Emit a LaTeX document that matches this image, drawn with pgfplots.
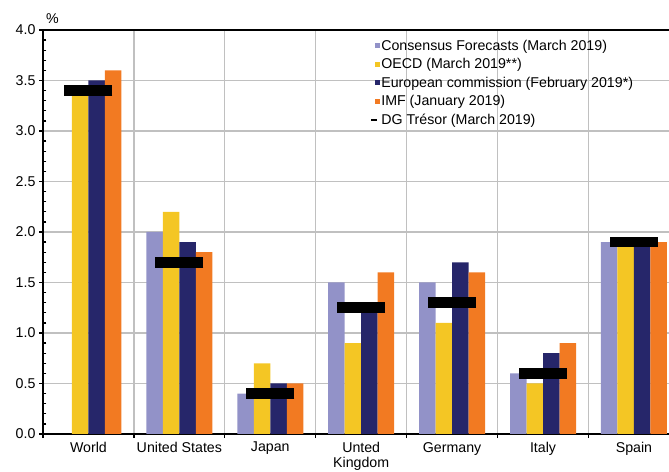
\documentclass[border=0pt]{standalone}
\usepackage{fontspec}
\setmainfont{Liberation Sans}
\usepackage{pgfplots}
\pgfplotsset{compat=1.18}

\definecolor{cfcol}{RGB}{146,146,200}
\definecolor{oecdcol}{RGB}{244,198,36}
\definecolor{eccol}{RGB}{38,38,106}
\definecolor{imfcol}{RGB}{242,122,34}
\definecolor{gridgray}{RGB}{192,192,192}

\pgfplotsset{
  sq/.style={legend image code/.code={\fill[#1] (4bp,-2.5bp) rectangle (9bp,2.5bp);}},
  fcbar/.style={ybar, bar width=16.5bp, draw=none, fill=#1, sq=#1},
}

\begin{document}
\begin{tikzpicture}
\useasboundingbox (0,0) rectangle (669bp,472bp);
\clip (0,0) rectangle (669bp,472bp);
\begin{axis}[
  font=\fontsize{14.2bp}{18bp}\selectfont,
  at={(43bp,38bp)}, anchor=south west,
  scale only axis, width=636.4bp, height=404bp,
  xmin=-0.5, xmax=6.5, ymin=0, ymax=4,
  axis line style={black, line width=2bp},
  tick pos=left, tick align=outside,
  tick style={black, line width=1.3bp},
  major tick length=4bp, minor tick length=-3.3bp,
  ytick={0,0.5,...,4}, minor y tick num=4,
  yticklabel style={/pgf/number format/.cd, fixed, fixed zerofill, precision=1},
  /pgf/number format/assume math mode=true,
  xtick={-0.5,0.5,...,6.5}, xticklabel=\empty,
  xmajorgrids=true, ymajorgrids=true,
  major grid style={draw=gridgray, line width=1.2bp},
  extra x ticks={0,1,2,3,4,5,6},
  extra x tick labels={World,United States,Japan,{Unted\\Kingdom},Germany,Italy,Spain},
  extra x tick style={major tick length=0pt, grid=none,
    tick label style={align=center, inner sep=0pt, yshift=-8bp,
      font=\fontsize{14.2bp}{15bp}\selectfont}},
  ylabel={\%},
  ylabel style={rotate=-90, at={(axis description cs:0,1)}, anchor=south west,
    inner sep=0pt, xshift=3bp, yshift=6bp},
  legend style={draw=none, fill=none, at={(axis description cs:0.514,0.978)},
    anchor=north west, inner sep=0pt, row sep=4.7bp, nodes={inner sep=1bp}},
  legend cell align=left,
]
% Consensus Forecasts: no figure published for the world aggregate
\addplot[fcbar=cfcol, bar shift=-24.75bp] coordinates
  {(1,2.0) (2,0.4) (3,1.5) (4,1.5) (5,0.6) (6,1.9)};
\addplot[fcbar=oecdcol, bar shift=-8.25bp] coordinates
  {(0,3.4) (1,2.2) (2,0.7) (3,0.9) (4,1.1) (5,0.5) (6,1.9)};
\addplot[fcbar=eccol, bar shift=8.25bp] coordinates
  {(0,3.5) (1,1.9) (2,0.5) (3,1.3) (4,1.7) (5,0.8) (6,1.9)};
\addplot[fcbar=imfcol, bar shift=24.75bp] coordinates
  {(0,3.6) (1,1.8) (2,0.5) (3,1.6) (4,1.6) (5,0.9) (6,1.9)};
% DG Tresor forecasts as thick horizontal markers
\addplot[only marks, mark=-, mark size=24bp,
  mark options={black, line width=10.5bp},
  legend image code/.code={\draw[black, line width=2bp] (0bp,0bp) -- (6bp,0bp);}]
  coordinates {(0,3.4) (1,1.7) (2,0.4) (3,1.25) (4,1.3) (5,0.6) (6,1.9)};
\legend{Consensus Forecasts (March 2019),OECD (March 2019**),European commission (February 2019*),IMF (January 2019),DG Trésor (March 2019)}
\end{axis}
\end{tikzpicture}
\end{document}
